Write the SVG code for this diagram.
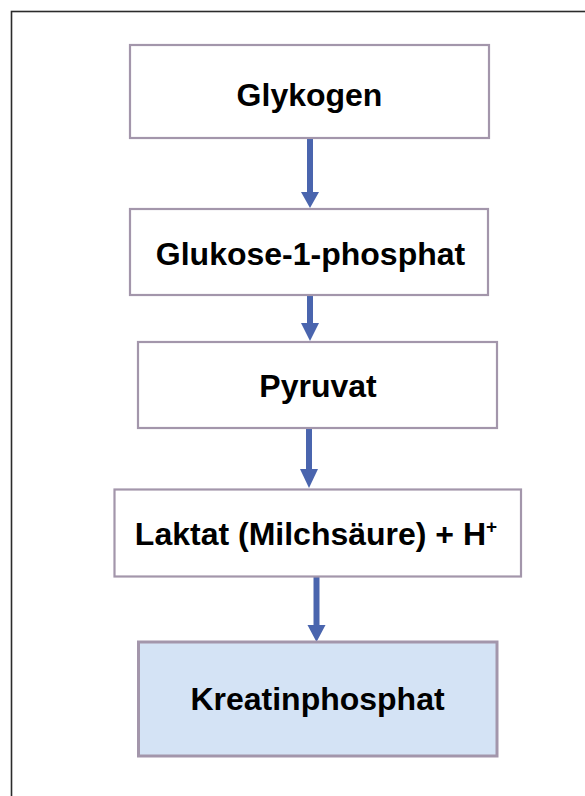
<svg xmlns="http://www.w3.org/2000/svg" width="585" height="796" viewBox="0 0 585 796">
<defs>
<style>
.box{fill:#ffffff;stroke:#A396AB;stroke-width:2.2}
.hl{fill:#D4E3F5;stroke:#A396AB;stroke-width:3}
.lbl{font-family:"Liberation Sans",Arial,sans-serif;font-weight:bold;font-size:32px;fill:#000;text-anchor:middle}
.conn line{stroke:#4A65AE;stroke-width:6}
.conn polygon{fill:#4A65AE}
</style>
</defs>
<rect x="0" y="0" width="585" height="796" fill="#ffffff"/>
<rect x="11.5" y="11.5" width="600" height="800" fill="none" stroke="#2b2b2b" stroke-width="1.6"/>
<g id="connectors" class="conn">
<line x1="310" y1="139" x2="310" y2="193"/>
<polygon points="301,192 319,192 310,208"/>
<line x1="310" y1="296" x2="310" y2="324"/>
<polygon points="301,323 319,323 310,341"/>
<line x1="309" y1="429" x2="309" y2="470"/>
<polygon points="300,469 318,469 309,488"/>
<line x1="316.5" y1="577" x2="316.5" y2="626"/>
<polygon points="307.5,625 325.5,625 316.5,642"/>
</g>
<g id="n1">
<rect class="box" x="130" y="45" width="359" height="93"/>
<text class="lbl" x="309.5" y="106">Glykogen</text>
</g>
<g id="n2">
<rect class="box" x="130" y="209" width="358" height="86"/>
<text class="lbl" x="310.5" y="265">Glukose-1-phosphat</text>
</g>
<g id="n3">
<rect class="box" x="138" y="342" width="359" height="86"/>
<text class="lbl" x="318" y="397">Pyruvat</text>
</g>
<g id="n4">
<rect class="box" x="114.5" y="489.5" width="406.5" height="87"/>
<text class="lbl" x="316" y="545">Laktat (Milchsäure) + H<tspan font-size="19" dy="-12">+</tspan></text>
</g>
<g id="n5">
<rect class="hl" x="138.5" y="642" width="358.5" height="114"/>
<text class="lbl" x="317.5" y="710">Kreatinphosphat</text>
</g>
</svg>
